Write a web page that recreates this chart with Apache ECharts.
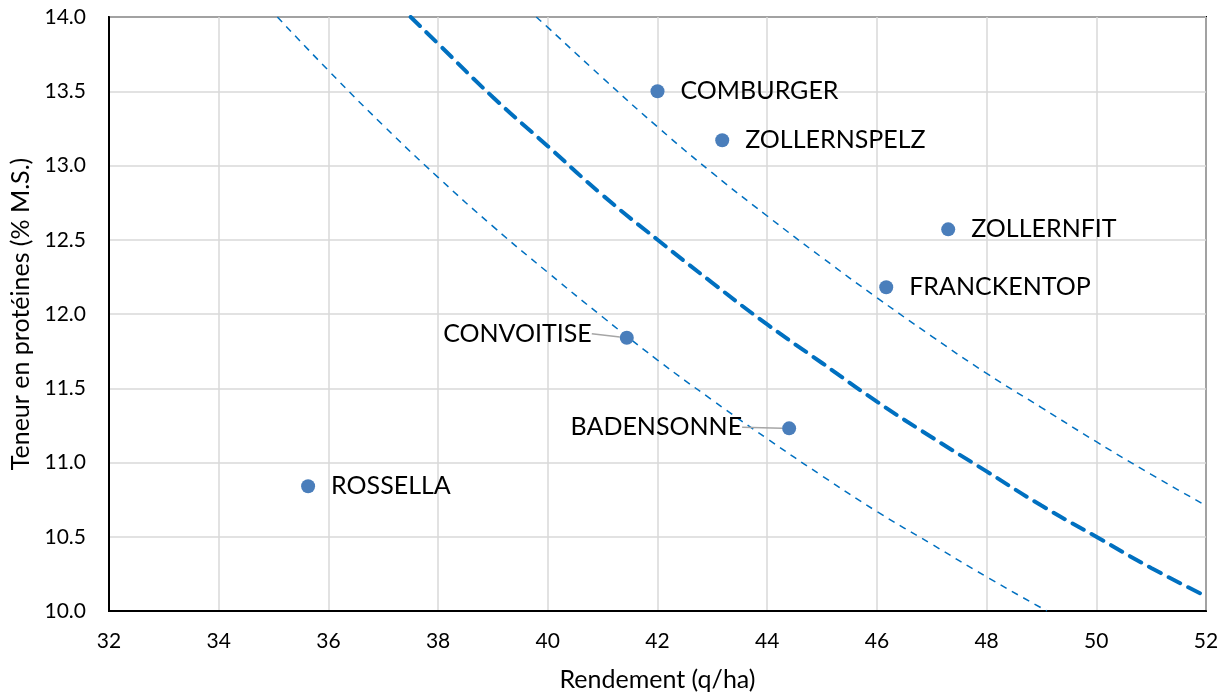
<!DOCTYPE html>
<html><head><meta charset="utf-8">
<script src="https://cdn.jsdelivr.net/npm/echarts@6/dist/echarts.min.js"></script>
<style>html,body{margin:0;padding:0;background:#fff}#c{width:1227px;height:696px}</style>
</head><body><div id="c"></div>
<script>
// Varieties: yield (q/ha) and protein content (% M.S.)
const varieties = ['COMBURGER','ZOLLERNSPELZ','ZOLLERNFIT','FRANCKENTOP','CONVOITISE','BADENSONNE','ROSSELLA'];
const yieldValues = [42.0, 43.18, 47.3, 46.17, 41.44, 44.4, 35.63];
const proteinValues = [13.50, 13.17, 12.57, 12.18, 11.84, 11.23, 10.84];
const labelSides = ['right','right','right','right','left','left','right'];

// Reference curves
const upperCurveX = [39.79, 40, 41, 42, 43, 44, 45, 46, 47, 48, 49, 50, 51, 52];
const upperCurveY = [14.0, 13.93, 13.59, 13.26, 12.95, 12.66, 12.38, 12.11, 11.85, 11.60, 11.37, 11.14, 10.92, 10.71];
const middleCurveX = [37.5, 38, 39, 40, 41, 42, 43, 44, 45, 46, 47, 48, 49, 50, 51, 52];
const middleCurveY = [14.0, 13.82, 13.46, 13.13, 12.80, 12.5, 12.21, 11.93, 11.67, 11.41, 11.17, 10.94, 10.71, 10.5, 10.29, 10.10];
const lowerCurveX = [35.07, 36, 37, 38, 39, 40, 41, 42, 43, 44, 45, 46, 47, 48, 49.1];
const lowerCurveY = [14.0, 13.64, 13.27, 12.92, 12.59, 12.28, 11.98, 11.69, 11.42, 11.16, 10.91, 10.67, 10.45, 10.23, 10.0];

const FONT = 'Lato';
const pair = (xs, ys) => xs.map((x, i) => [x, ys[i]]);

const pointData = varieties.map((name, i) => {
  const left = labelSides[i] === 'left';
  const item = {
    name: name,
    value: [yieldValues[i], proteinValues[i]],
    label: { position: labelSides[i], distance: left ? 5 : 16 }
  };
  if (left) item.labelLine = { show: true, lineStyle: { color: '#a6a6a6', width: 1.5 } };
  return item;
});

const labelShift = { CONVOITISE: [-23, -4], BADENSONNE: [-35, -1] };

const chart = echarts.init(document.getElementById('c'), null, { renderer: 'canvas' });
chart.setOption({
  backgroundColor: '#fff',
  animation: false,
  grid: { left: 109, right: 21, top: 17, bottom: 85, containLabel: false, outerBoundsMode: 'none',
          show: true, borderColor: '#000', borderWidth: 2, backgroundColor: 'transparent' },
  xAxis: {
    type: 'value', min: 32, max: 52, interval: 2,
    name: 'Rendement (q/ha)', nameLocation: 'middle', nameGap: 56,
    nameTextStyle: { fontFamily: FONT, fontSize: 25, color: '#000' },
    axisLine: { show: true, onZero: false, lineStyle: { color: '#000', width: 2 } },
    axisTick: { show: false },
    axisLabel: { fontFamily: FONT, fontSize: 21, color: '#000', margin: 20 },
    splitLine: { show: true, lineStyle: { color: '#d9d9d9', width: 1.5 } }
  },
  yAxis: {
    type: 'value', min: 10, max: 14, interval: 0.5,
    name: 'Teneur en protéines (% M.S.)', nameLocation: 'middle', nameGap: 76,
    nameTextStyle: { fontFamily: FONT, fontSize: 25, color: '#000' },
    axisLine: { show: true, onZero: false, lineStyle: { color: '#000', width: 2 } },
    axisTick: { show: false },
    axisLabel: { fontFamily: FONT, fontSize: 21, color: '#000', margin: 23, formatter: v => v.toFixed(1) },
    splitLine: { show: true, lineStyle: { color: '#d9d9d9', width: 1.5 } }
  },
  series: [
    { type: 'line', data: pair(upperCurveX, upperCurveY), showSymbol: false, smooth: true, z: 2,
      lineStyle: { color: '#0070C0', width: 1.5, type: [7, 6] } },
    { type: 'line', data: pair(middleCurveX, middleCurveY), showSymbol: false, smooth: true, z: 2,
      lineStyle: { color: '#0070C0', width: 4, type: [13, 9], cap: 'round' } },
    { type: 'line', data: pair(lowerCurveX, lowerCurveY), showSymbol: false, smooth: true, z: 2,
      lineStyle: { color: '#0070C0', width: 1.5, type: [7, 6] } },
    { type: 'scatter', data: pointData, symbolSize: 14, z: 5,
      itemStyle: { color: '#4a7ebb', opacity: 1 },
      label: { show: true, formatter: p => p.name, fontFamily: FONT, fontSize: 25, color: '#000' },
      labelLayout: function (params) {
        const s = labelShift[varieties[params.dataIndex]];
        return s ? { dx: s[0], dy: s[1] } : {};
      }
    }
  ]
});
</script></body></html>
